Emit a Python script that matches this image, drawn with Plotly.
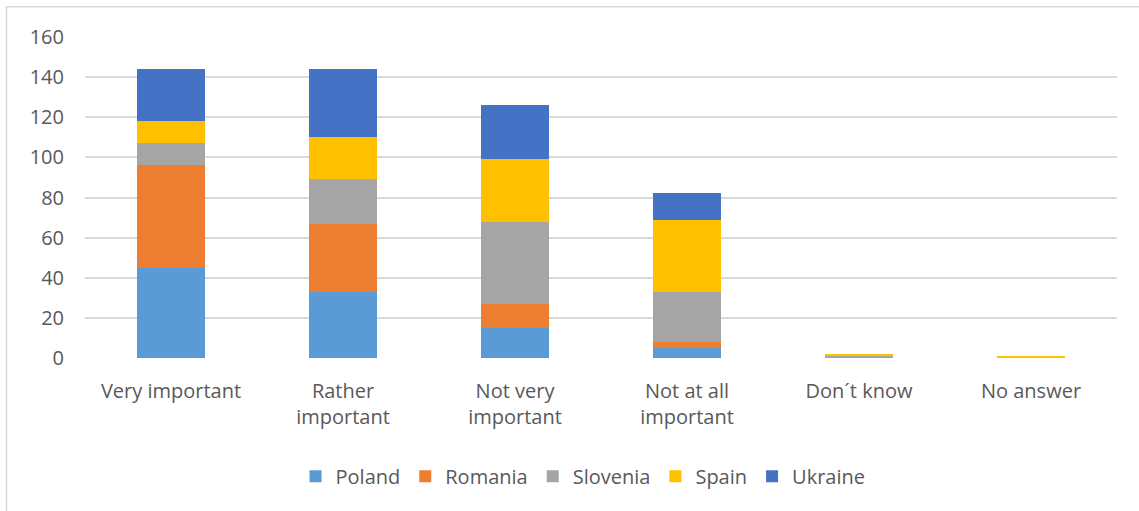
import plotly.graph_objects as go

categories = ["Very important", "Rather<br>important", "Not very<br>important",
              "Not at all<br>important", "Don´t know", "No answer"]
poland = [45, 33, 15, 5, 0, 0]
romania = [51, 34, 12, 3, 0, 0]
slovenia = [11, 22, 41, 25, 1, 0]
spain = [11, 21, 31, 36, 1, 1]
ukraine = [26, 34, 27, 13, 0, 0]

series = [("Poland", poland, "#5B9BD5"),
          ("Romania", romania, "#ED7D31"),
          ("Slovenia", slovenia, "#A5A5A5"),
          ("Spain", spain, "#FFC000"),
          ("Ukraine", ukraine, "#4472C4")]

FONT = "Open Sans, Lato, sans-serif"
TXT = "#595959"

fig = go.Figure()
for name, vals, col in series:
    fig.add_trace(go.Bar(x=categories, y=vals, name=name,
                         marker=dict(color=col, line=dict(width=0))))

fig.update_layout(
    barmode="stack",
    bargap=0.605,
    width=1139, height=511,
    margin=dict(l=85, r=22, t=37, b=153),
    paper_bgcolor="white", plot_bgcolor="white",
    font=dict(family=FONT, size=20, color=TXT),
    legend=dict(orientation="h", x=0.4826, xanchor="center",
                y=-0.368, yanchor="middle", font=dict(size=20, color=TXT),
                traceorder="normal", itemwidth=30),
    showlegend=True,
)
fig.update_yaxes(range=[0, 160], dtick=20, showgrid=True, gridcolor="#D9D9D9",
                 gridwidth=1.5, zeroline=False, showline=False,
                 ticklabelstandoff=20, tickfont=dict(size=20, color=TXT))
fig.update_xaxes(showgrid=False, showline=False, zeroline=False,
                 ticklabelstandoff=19, tickfont=dict(size=20, color=TXT),
                 tickangle=0)

fig.add_shape(type="rect", xref="paper", yref="paper",
              x0=-0.0761, x1=1.2, y0=-0.7, y1=1.094,
              line=dict(color="#D9D9D9", width=1.5), fillcolor="rgba(0,0,0,0)",
              layer="below")

fig.write_html("out.html")
